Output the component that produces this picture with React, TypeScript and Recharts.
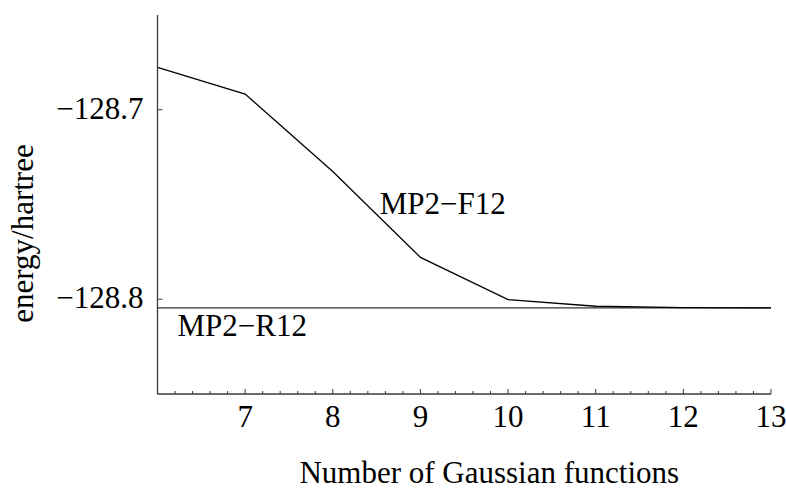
import React from 'react';
import {
  LineChart,
  Line,
  XAxis,
  YAxis,
  ReferenceLine,
} from 'recharts';

// basis size (number of Gaussian functions) and MP2 energies in hartree
const basisSizes = [6, 7, 8, 9, 10, 11, 12, 13];
const f12Energy = [-128.6776, -128.6917, -128.7326, -128.7779, -128.8002, -128.8037, -128.8044, -128.8046];
const r12Energy = -128.8046;

const xMajorTicks = [7, 8, 9, 10, 11, 12, 13];
const yTicks = [-128.7, -128.8];

// minor ticks every 0.2 between the labelled integers
const xTicks: number[] = [];
for (let i = 31; i <= 65; i++) xTicks.push(i / 5);

const data = basisSizes.map((n, i) => ({ n, f12: f12Energy[i] }));

const FONT = '"Liberation Serif", "Times New Roman", serif';
const AXIS = '#3a3a3a';
const minus = (s: string) => s.replace('-', '\u2212');

const XTick = ({ x, y, payload }: any) => {
  const v = payload.value;
  const major = xMajorTicks.some(t => Math.abs(t - v) < 1e-6);
  return (
    <g>
      <line x1={x} x2={x} y1={y} y2={y - (major ? 5 : 3)} stroke={AXIS} strokeWidth={1} />
      {major && (
        <text x={x} y={y + 33} textAnchor="middle" fontFamily={FONT} fontSize={31} fill="#000">
          {Math.round(v)}
        </text>
      )}
    </g>
  );
};

const YTick = ({ x, y, payload }: any) => (
  <g>
    <line x1={x} x2={x + 5} y1={y} y2={y} stroke={AXIS} strokeWidth={1} />
    <text x={x - 14} y={y + 9} textAnchor="end" fontFamily={FONT} fontSize={31} fill="#000">
      {minus(payload.value.toFixed(1))}
    </text>
  </g>
);

const F12Label = ({ x, y, index }: any) =>
  index === 2 ? (
    <text x={x + 47} y={y + 42} fontFamily={FONT} fontSize={31} fill="#000">
      MP2{'\u2212'}F12
    </text>
  ) : null;

export default function App() {
  return (
    <div style={{ position: 'absolute', left: 0, top: 0, background: '#fff' }}>
      <LineChart
        width={786}
        height={490}
        data={data}
        margin={{ top: 15, right: 15, bottom: 0, left: 0 }}
      >
        <XAxis
          dataKey="n"
          type="number"
          domain={[6, 13]}
          ticks={xTicks}
          interval={0}
          height={96}
          tickSize={0}
          tickMargin={0}
          tickLine={false}
          tick={<XTick />}
          stroke={AXIS}
          strokeWidth={1.3}
          label={({ viewBox }: any) => (
            <text
              x={viewBox.x + viewBox.width / 2 + 25}
              y={483}
              textAnchor="middle"
              fontFamily={FONT}
              fontSize={31}
              fill="#000"
            >
              Number of Gaussian functions
            </text>
          )}
        />
        <YAxis
          type="number"
          domain={[-128.85, -128.65]}
          ticks={yTicks}
          width={157.5}
          tickSize={0}
          tickMargin={0}
          tickLine={false}
          tick={<YTick />}
          stroke={AXIS}
          strokeWidth={1.3}
          allowDataOverflow
          label={({ viewBox }: any) => (
            <text
              x={33}
              y={viewBox.y + viewBox.height / 2 + 29}
              transform={`rotate(-90, 33, ${viewBox.y + viewBox.height / 2 + 29})`}
              textAnchor="middle"
              fontFamily={FONT}
              fontSize={31}
              fill="#000"
            >
              energy/hartree
            </text>
          )}
        />
        <ReferenceLine
          y={r12Energy}
          stroke="#333"
          strokeWidth={1.3}
          label={({ viewBox }: any) => (
            <text x={viewBox.x + 20} y={viewBox.y + 28} fontFamily={FONT} fontSize={31} fill="#000">
              MP2{'\u2212'}R12
            </text>
          )}
        />
        <Line
          dataKey="f12"
          stroke="#000"
          strokeWidth={1.3}
          dot={false}
          isAnimationActive={false}
          label={<F12Label />}
        />
      </LineChart>
    </div>
  );
}
